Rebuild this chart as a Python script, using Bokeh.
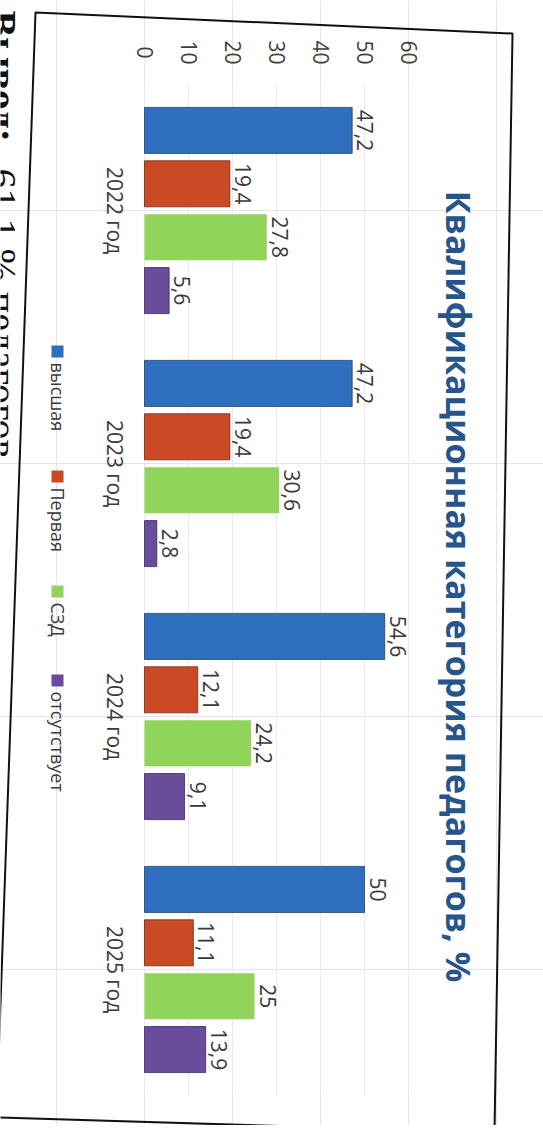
import math
from bokeh.plotting import figure
from bokeh.models import Range1d, ColumnDataSource
from bokeh.core.properties import value
from bokeh.embed import file_html
from bokeh.resources import INLINE

# ---------------- data ----------------
years = ["2022 год", "2023 год", "2024 год", "2025 год"]
series = ["высшая", "Первая", "СЗД", "отсутствует"]
vysshaya = [47.2, 47.2, 54.6, 50.0]
pervaya = [19.4, 19.4, 12.1, 11.1]
szd = [27.8, 30.6, 24.2, 25.0]
otsutstvuet = [5.6, 2.8, 9.1, 13.9]
ticks = [0, 10, 20, 30, 40, 50, 60]
title_text = "Квалификационная категория педагогов, %"
note_bold = "Вывод:"
note_rest = "61,1 % педагогов"

# ---------------- styles / layout ----------------
colors = ["#2E6FBF", "#CB4A26", "#90D45A", "#6A4C9C"]
outline = ["#26405f", "#6b2a16", None, "#3a2a5a"]
FONT = value("Open Sans")
ROT = -math.pi / 2

W, H = 543, 1125
OFF = 0                  # page offset of the canvas
X0, S = 144.0, 4.4       # px of value 0, px per unit
GY0, G = 210.0, 253.0    # px of first group centre, px per group


def xd(ref_px):
    return (ref_px - OFF - X0) / S


def yd(ref_px):
    return (ref_px - OFF - GY0) / G


def fmt(v):
    return f"{v:g}".replace(".", ",")


p = figure(width=W, height=H,
           x_range=Range1d(xd(OFF), xd(OFF + W)),
           y_range=Range1d(yd(OFF + H), yd(OFF)),
           output_backend="svg", toolbar_location=None,
           x_axis_location=None, y_axis_location=None,
           min_border=0, title=None)
p.outline_line_color = None
p.background_fill_color = "white"
p.border_fill_color = "white"

# faint vertical grid lines
p.segment(x0=ticks, x1=ticks, y0=[yd(85)] * len(ticks), y1=[yd(1095)] * len(ticks),
          line_color="#EBEBEB", line_width=1)

# value tick labels (top)
p.text(x=ticks, y=[yd(52)] * len(ticks), text=[str(t) for t in ticks],
       angle=ROT, text_align="center", text_baseline="middle",
       text_font=FONT, text_font_size="21px", text_color="#404040")

# bars + value labels
all_vals = [vysshaya, pervaya, szd, otsutstvuet]
step, bh = 0.211, 0.182
gap = 13 / S
for j, (vals, col, oc) in enumerate(zip(all_vals, colors, outline)):
    off = (j - 1.5) * step
    src = ColumnDataSource(dict(
        y=[i + off for i in range(len(years))],
        right=vals,
        lx=[v + gap for v in vals],
        lab=[fmt(v) for v in vals],
    ))
    p.hbar(y="y", left=0, right="right", height=bh, source=src,
           fill_color=col, line_color=oc, line_width=1, line_alpha=0.8)
    p.text(x="lx", y="y", text="lab", source=src, angle=ROT,
           text_align="center", text_baseline="alphabetic",
           text_font=FONT, text_font_size="21px", text_color="#3a3a3a")

# category labels
p.text(x=[xd(114)] * len(years), y=list(range(len(years))), text=years,
       angle=ROT, text_align="center", text_baseline="alphabetic",
       text_font=FONT, text_font_size="21px", text_color="#3a3a3a")

# legend (rotated)
leg_sq_y = [351, 476, 591, 680]
p.scatter(x=[xd(57)] * 4, y=[yd(v) for v in leg_sq_y], marker="square",
          size=12, fill_color=colors, line_color=None)
p.text(x=[xd(57)] * 4, y=[yd(v + 11) for v in leg_sq_y], text=series,
       angle=ROT, text_align="left", text_baseline="middle",
       text_font=FONT, text_font_size="18px", text_color="#3a3a3a")

# title
p.text(x=[xd(458)], y=[yd(586)], text=[title_text], angle=ROT,
       text_align="center", text_baseline="middle",
       text_font=FONT, text_font_style="bold", text_font_size="34px",
       text_color="#27548A")

# chart border (photo is slightly skewed)
p.patch(x=[xd(35), xd(512), xd(494), xd(-4)],
        y=[yd(12), yd(33), yd(1132), yd(1117)],
        fill_alpha=0, line_color="#111111", line_width=2)

# document text cut at the left edge
p.text(x=[xd(2)], y=[yd(10)], text=[note_bold], angle=ROT,
       text_align="left", text_baseline="alphabetic",
       text_font=value("Liberation Serif"), text_font_style="bold",
       text_font_size="40px", text_color="#111111")
p.text(x=[xd(2)], y=[yd(168)], text=[note_rest], angle=ROT,
       text_align="left", text_baseline="alphabetic",
       text_font=value("Liberation Serif"),
       text_font_size="40px", text_color="#111111")

open("out.html", "w").write(file_html(p, INLINE))
